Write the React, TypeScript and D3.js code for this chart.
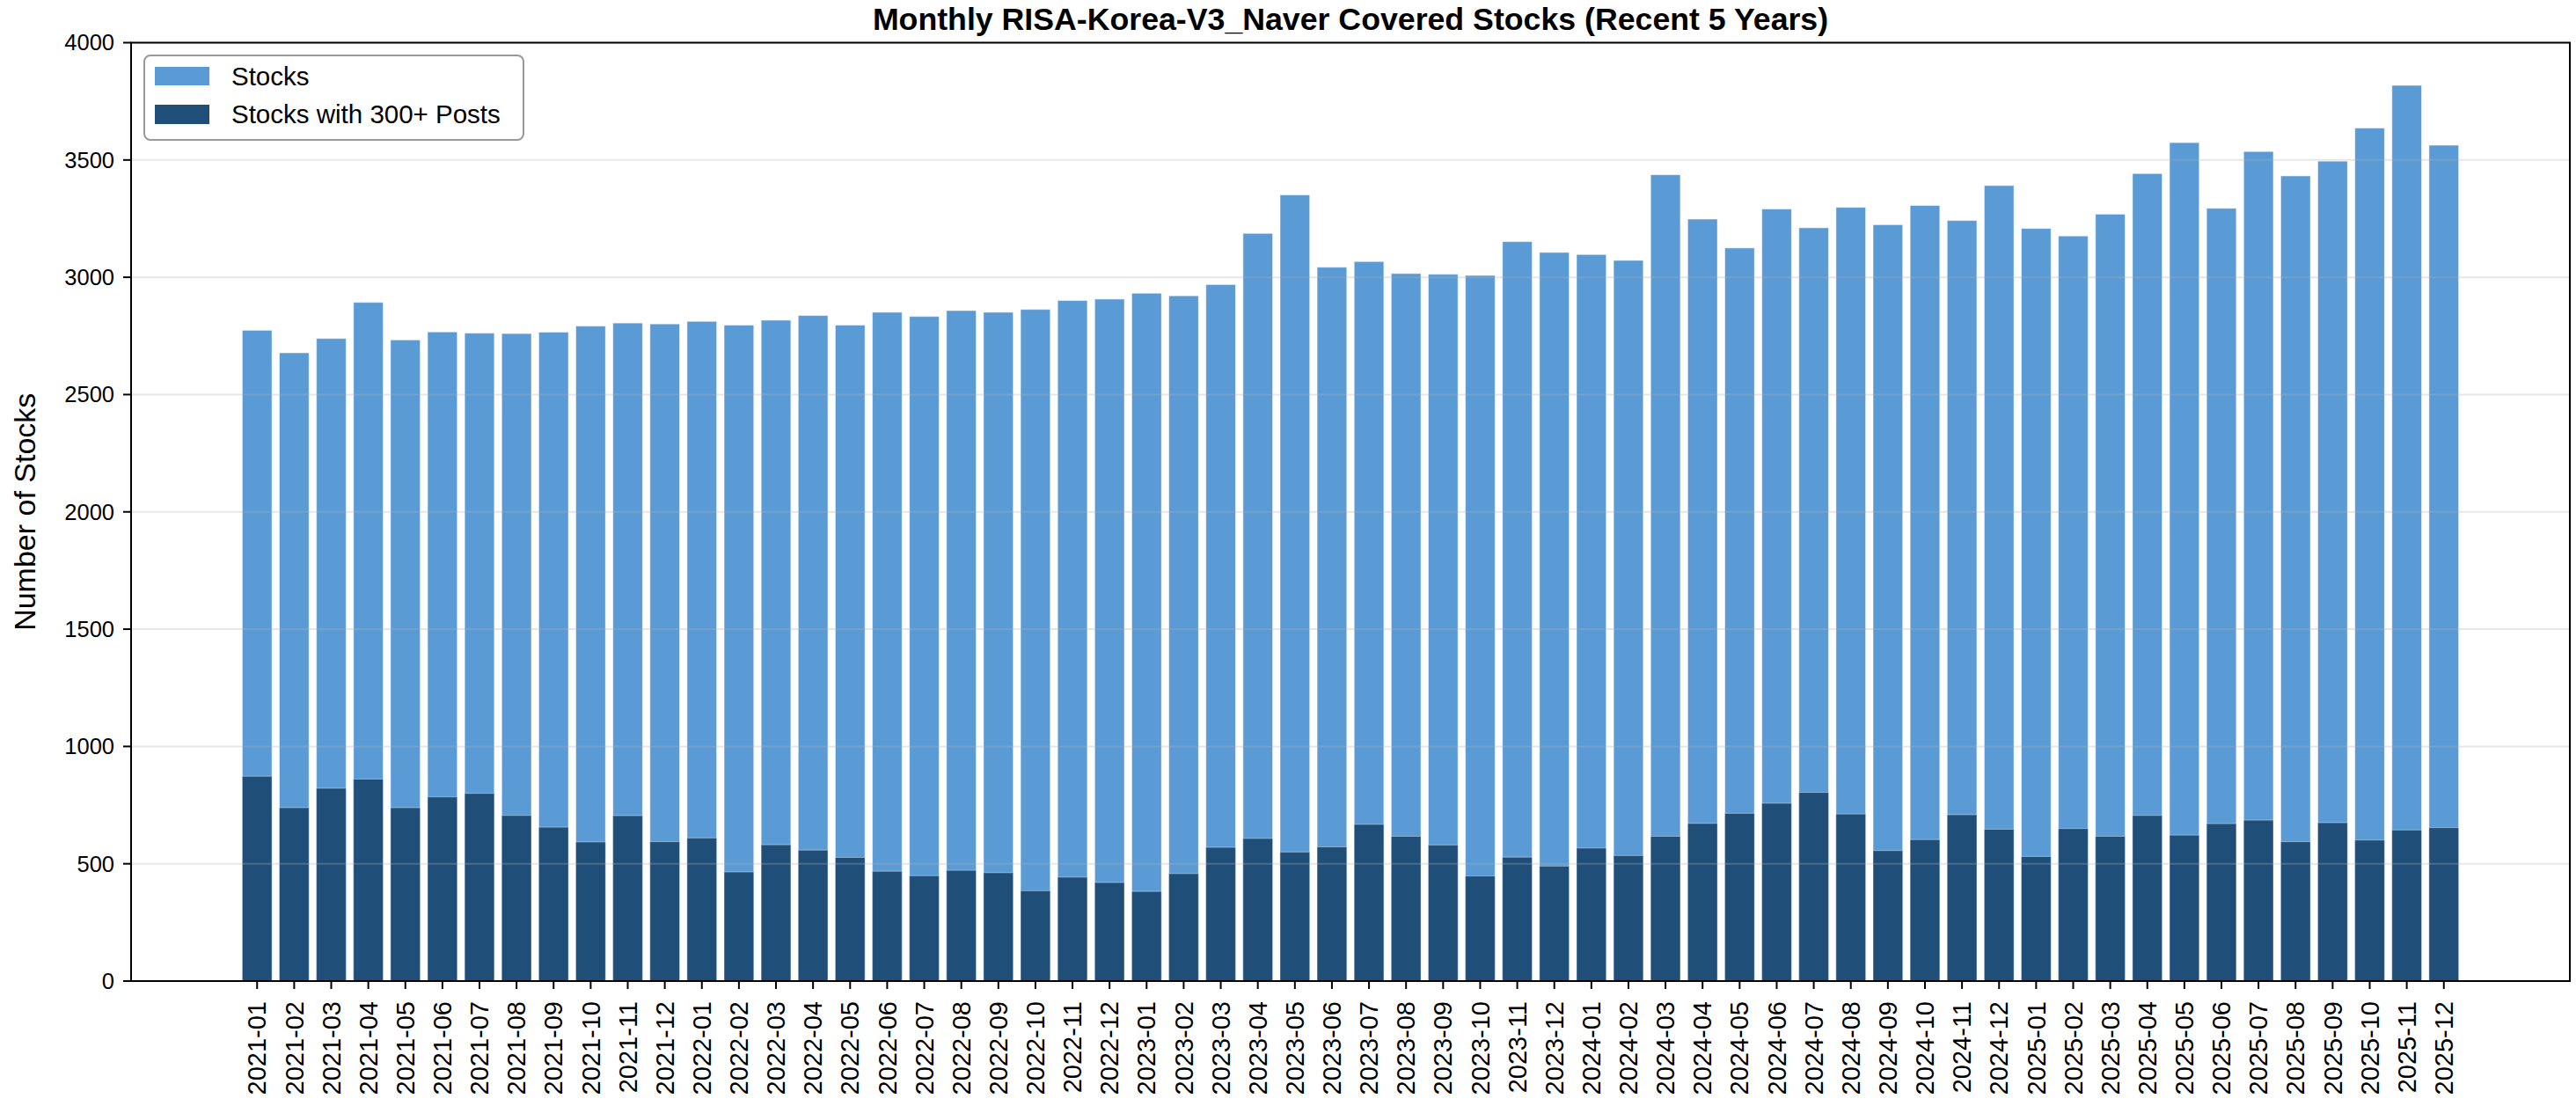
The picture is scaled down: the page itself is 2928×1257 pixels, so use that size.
import React from "react";
import * as d3 from "d3";

const months: string[] = [
  "2021-01","2021-02","2021-03","2021-04","2021-05","2021-06","2021-07","2021-08","2021-09","2021-10","2021-11","2021-12",
  "2022-01","2022-02","2022-03","2022-04","2022-05","2022-06","2022-07","2022-08","2022-09","2022-10","2022-11","2022-12",
  "2023-01","2023-02","2023-03","2023-04","2023-05","2023-06","2023-07","2023-08","2023-09","2023-10","2023-11","2023-12",
  "2024-01","2024-02","2024-03","2024-04","2024-05","2024-06","2024-07","2024-08","2024-09","2024-10","2024-11","2024-12",
  "2025-01","2025-02","2025-03","2025-04","2025-05","2025-06","2025-07","2025-08","2025-09","2025-10","2025-11","2025-12",
];

const totalStocks: number[] = [
  2774, 2678, 2739, 2893, 2733, 2767, 2762, 2760, 2766, 2792, 2805, 2801,
  2812, 2796, 2817, 2837, 2796, 2851, 2833, 2858, 2851, 2863, 2901, 2907,
  2932, 2921, 2969, 3187, 3351, 3043, 3067, 3016, 3013, 3008, 3152, 3106,
  3097, 3072, 3437, 3248, 3125, 3291, 3211, 3298, 3224, 3306, 3242, 3391,
  3208, 3176, 3269, 3442, 3574, 3294, 3536, 3432, 3495, 3636, 3818, 3563,
];

const stocks300Plus: number[] = [
  873, 739, 822, 861, 739, 785, 800, 706, 656, 593, 705, 594,
  610, 465, 581, 558, 527, 468, 449, 472, 462, 385, 443, 420,
  382, 458, 570, 608, 550, 572, 668, 617, 580, 448, 528, 490,
  567, 535, 617, 672, 715, 758, 804, 712, 556, 603, 709, 647,
  531, 650, 617, 706, 622, 671, 686, 594, 675, 601, 644, 654,
];

const yTicks: number[] = [0, 500, 1000, 1500, 2000, 2500, 3000, 3500, 4000];

const titleText = "Monthly RISA-Korea-V3_Naver Covered Stocks (Recent 5 Years)";
const yLabelText = "Number of Stocks";
const legendLabels: string[] = ["Stocks", "Stocks with 300+ Posts"];

const LIGHT = "#5B9BD5";
const DARK = "#1F4E79";
const FONT = "'Liberation Sans', Arial, Helvetica, sans-serif";

export default function App() {
  const W = 2928, H = 1257;
  const left = 149, right = 2921, top = 48.5, bottom = 1115;

  const x = d3.scaleBand<string>().domain(months).range([left, right]).paddingInner(0.2).paddingOuter(3.0);
  const y = d3.scaleLinear().domain([0, 4000]).range([bottom, top]);
  const bw = x.bandwidth();

  return (
    <svg width={W} height={H} style={{ position: "absolute", left: 0, top: 0, background: "#fff" }} fontFamily={FONT}>
      <rect x={0} y={0} width={W} height={H} fill="#fff" />
      {months.map((m, i) => (
        <rect key={"t" + m} x={x(m)} y={y(totalStocks[i])} width={bw} height={y(0) - y(totalStocks[i])}
          fill={LIGHT} stroke="#ffffff" strokeOpacity={0.5} strokeWidth={1} />
      ))}
      {months.map((m, i) => (
        <rect key={"d" + m} x={x(m)} y={y(stocks300Plus[i])} width={bw} height={y(0) - y(stocks300Plus[i])}
          fill={DARK} stroke="#ffffff" strokeOpacity={0.4} strokeWidth={1} />
      ))}
      {yTicks.map((t) => (
        <line key={"g" + t} x1={left} x2={right} y1={y(t)} y2={y(t)} stroke="#b0b0b0" strokeOpacity={0.3} strokeWidth={2} />
      ))}
      <rect x={left} y={top} width={right - left} height={bottom - top} fill="none" stroke="#000" strokeWidth={2} />
      {yTicks.map((t) => (
        <g key={"yt" + t}>
          <line x1={left - 9} x2={left} y1={y(t)} y2={y(t)} stroke="#000" strokeWidth={2} />
          <text x={left - 19} y={y(t)} dy="0.35em" textAnchor="end" fontSize={25.5} fill="#000">{t}</text>
        </g>
      ))}
      {months.map((m) => {
        const cx = (x(m) as number) + bw / 2;
        return (
          <g key={"xt" + m}>
            <line x1={cx} x2={cx} y1={bottom} y2={bottom + 9} stroke="#000" strokeWidth={2} />
            <text transform={`translate(${cx},${bottom + 23}) rotate(-90)`} dy="0.35em" textAnchor="end" fontSize={29} fill="#000">{m}</text>
          </g>
        );
      })}
      <text transform={`translate(40,${(top + bottom) / 2}) rotate(-90)`} textAnchor="middle" fontSize={34} fill="#000">{yLabelText}</text>
      <text x={(left + right) / 2} y={34} textAnchor="middle" fontSize={35.7} fontWeight="bold" fill="#000">{titleText}</text>
      <g>
        <rect x={164} y={63} width={431} height={96} rx={7} fill="#fff" fillOpacity={0.8} stroke="#999" strokeWidth={2} />
        <rect x={176} y={76} width={62} height={21} fill={LIGHT} />
        <text x={263} y={97} fontSize={29.5} fill="#000">{legendLabels[0]}</text>
        <rect x={176} y={119} width={62} height={22} fill={DARK} />
        <text x={263} y={140} fontSize={29.5} fill="#000">{legendLabels[1]}</text>
      </g>
    </svg>
  );
}
